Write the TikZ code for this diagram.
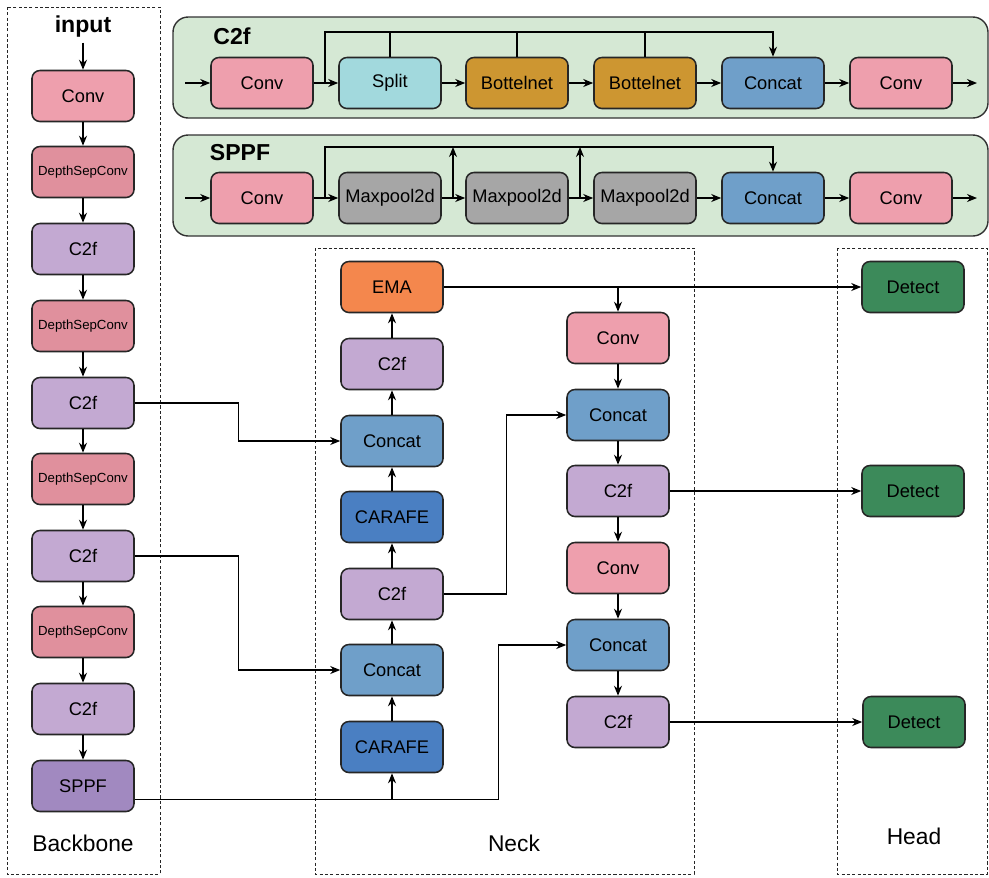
\documentclass[tikz,border=0pt]{standalone}
\usepackage{fontspec}
\setmainfont{Liberation Sans}
\usetikzlibrary{arrows.meta,calc}
\definecolor{convc}{HTML}{EE9FAD}
\definecolor{dscc}{HTML}{E0909D}
\definecolor{c2fc}{HTML}{C3A9D2}
\definecolor{sppfc}{HTML}{A189C0}
\definecolor{splitc}{HTML}{A2D9DD}
\definecolor{bottc}{HTML}{CD9631}
\definecolor{catc}{HTML}{6F9FC9}
\definecolor{maxc}{HTML}{A6A6A6}
\definecolor{emac}{HTML}{F4874D}
\definecolor{carc}{HTML}{4A7FC2}
\definecolor{detc}{HTML}{3C8A5A}
\definecolor{panelc}{HTML}{D5E8D4}
\tikzset{
  box/.style={draw=black!85, line width=1.1pt, rounded corners=0.2cm, minimum width=2.55cm,
    minimum height=1.275cm, inner sep=0pt, font=\fontsize{13}{14}\selectfont},
  conv/.style={box, fill=convc},
  dsc/.style={box, fill=dscc, font=\fontsize{9.4}{11}\selectfont},
  c2f/.style={box, fill=c2fc},
  sppf/.style={box, fill=sppfc},
  split/.style={box, fill=splitc},
  bott/.style={box, fill=bottc},
  concat/.style={box, fill=catc},
  maxp/.style={box, fill=maxc},
  ema/.style={box, fill=emac},
  carafe/.style={box, fill=carc},
  detect/.style={box, fill=detc},
  panel/.style={draw=black!80, line width=1pt, fill=panelc, rounded corners=0.38cm},
  frame/.style={draw=black!85, line width=0.6pt, dash pattern=on 2.2pt off 1.6pt},
  arr/.style={-{Stealth[length=0.25cm, width=0.2cm]}, line width=0.9pt},
  ln/.style={line width=0.9pt},
  head/.style={font=\fontsize{16.4}{18}\selectfont\bfseries},
  part/.style={font=\fontsize{16.2}{18}\selectfont}
}
\begin{document}
\begin{tikzpicture}[x=0.025cm, y=-0.025cm]
\useasboundingbox (0,0) rectangle (989,877);
\draw[frame] (7,7) rectangle (160,874);
\draw[frame] (315,248) rectangle (694,874);
\draw[frame] (837,248) rectangle (987,874);
\draw[panel] (173,17) rectangle (988,118);
\draw[panel] (173,135) rectangle (988,236);

\node[head] (in) at (83,27) {input};
\node[head] (lc) at (232,36) {C2f};
\node[head] (ls) at (240,153) {SPPF};
\node[part] (lb) at (83,843) {Backbone};
\node[part] (ln) at (514,843) {Neck};
\node[part] (lh) at (914,836) {Head};

\foreach \i/\y/\s/\t in {1/96/conv/Conv, 2/172/dsc/DepthSepConv, 3/249/c2f/C2f, 4/326/dsc/DepthSepConv,
  5/403/c2f/C2f, 6/479/dsc/DepthSepConv, 7/556/c2f/C2f, 8/632/dsc/DepthSepConv, 9/709/c2f/C2f, 10/786/sppf/SPPF}
  \node[\s] (b\i) at (83,\y) {\t};
\draw[arr] (in) -- (b1);
\foreach \i [count=\j from 2] in {1,...,9}
  \draw[arr] (b\i) -- (b\j);

\foreach \i/\x/\s/\t in {1/262/conv/Conv, 2/390/split/Split, 3/517/bott/Bottelnet, 4/645/bott/Bottelnet,
  5/773/concat/Concat, 6/901/conv/Conv}
  \node[\s] (c\i) at (\x,83) {\t};
\foreach \i/\x/\s/\t in {1/262/conv/Conv, 2/390/maxp/Maxpool2d, 3/517/maxp/Maxpool2d, 4/645/maxp/Maxpool2d,
  5/773/concat/Concat, 6/901/conv/Conv}
  \node[\s] (s\i) at (\x,198) {\t};
\coordinate (ci) at (185,83);
\coordinate (co) at (977,83);
\coordinate (si) at (185,198);
\coordinate (so) at (977,198);
\draw[arr] (ci) -- (c1);
\draw[arr] (si) -- (s1);
\draw[arr] (c6) -- (co);
\draw[arr] (s6) -- (so);
\foreach \i [count=\j from 2] in {1,...,5}
{
  \draw[arr] (c\i) -- (c\j);
  \draw[arr] (s\i) -- (s\j);
}
\draw[arr] (325,83) -- (325,32) -| (c5);
\foreach \i in {2,3,4}
  \draw[ln] (c\i) -- (c\i |- 0,32);
\draw[arr] (325,198) -- (325,147) -| (s5);
\draw[arr] (453,198) -- (453,147);
\draw[arr] (580,198) -- (580,147);

\foreach \i/\y/\s/\t in {1/287/ema/EMA, 2/364/c2f/C2f, 3/441/concat/Concat, 4/517/carafe/CARAFE,
  5/594/c2f/C2f, 6/670/concat/Concat, 7/747/carafe/CARAFE}
  \node[\s] (n\i) at (392,\y) {\t};
\foreach \i [count=\j from 2] in {1,...,6}
  \draw[arr] (n\j) -- (n\i);

\foreach \i/\y/\s/\t in {1/338/conv/Conv, 2/415/concat/Concat, 3/491/c2f/C2f, 4/568/conv/Conv,
  5/645/concat/Concat, 6/722/c2f/C2f}
  \node[\s] (m\i) at (618,\y) {\t};
\foreach \i [count=\j from 2] in {1,...,5}
  \draw[arr] (m\i) -- (m\j);

\node[detect] (d1) at (913,287) {Detect};
\node[detect] (d2) at (913,491) {Detect};
\node[detect] (d3) at (914,722) {Detect};

\draw[arr] (n1) -- (d1);
\draw[arr] (m1 |- n1) -- (m1);
\draw[arr] (m3) -- (d2);
\draw[arr] (m6) -- (d3);
\draw[arr] (b5.east) -- ++(104,0) |- (n3.west);
\draw[arr] (b7.east) -- ++(104,0) |- (n6.west);
\draw[arr] (n5.east) -- ++(63,0) |- (m2.west);
\coordinate (sp) at ($(b10.south east)!.25!(b10.north east)$);
\draw[arr] (sp) -- ++(364,0) |- (m5.west);
\draw[arr] (n7 |- sp) -- (n7);

\end{tikzpicture}
\end{document}
